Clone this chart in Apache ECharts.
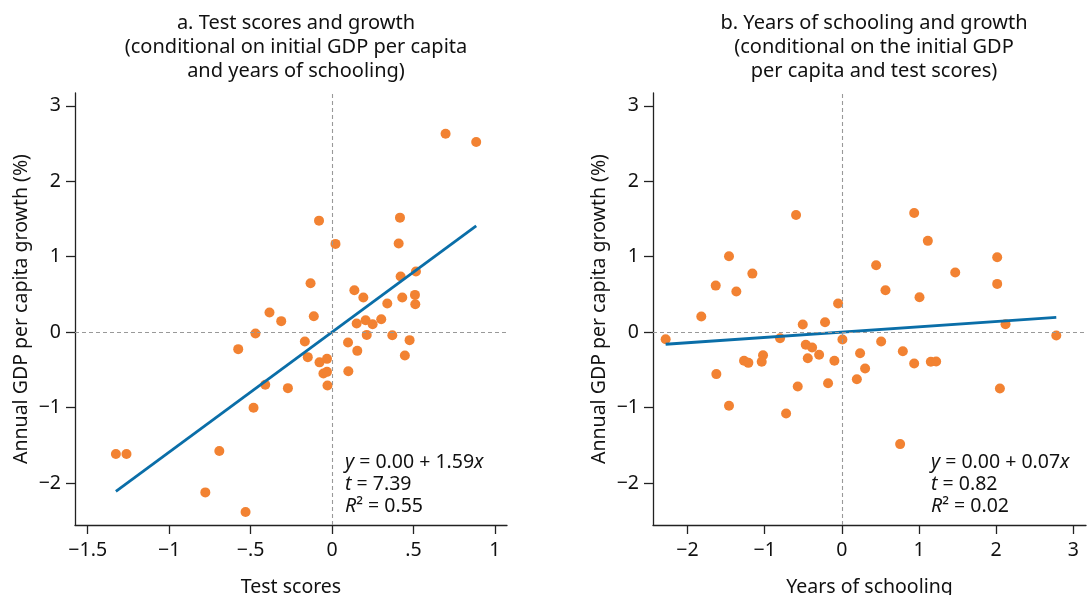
<!DOCTYPE html>
<html>
<head>
<meta charset="utf-8">
<script src="https://cdn.jsdelivr.net/npm/echarts@6/dist/echarts.min.js"></script>
<style>
  html, body { margin: 0; padding: 0; background: #fff; }
  #chart { width: 1090px; height: 595px; }
</style>
</head>
<body>
<div id="chart"></div>
<script>
// panel a: test scores vs growth (x, y)
const testScores = [
  [0.697, 2.63], [0.885, 2.52], [-0.080, 1.478], [0.417, 1.518], [0.021, 1.17],
  [0.409, 1.174], [0.515, 0.803], [0.421, 0.737], [-0.132, 0.648], [0.137, 0.556],
  [0.192, 0.459], [0.431, 0.459], [0.509, 0.494], [0.511, 0.370], [0.339, 0.379],
  [-0.384, 0.26], [-0.312, 0.146], [-0.112, 0.21], [0.206, 0.159], [0.151, 0.114],
  [0.249, 0.105], [0.302, 0.172], [-0.470, -0.018], [0.213, -0.036], [0.370, -0.04],
  [0.476, -0.106], [-0.167, -0.124], [0.098, -0.137], [-0.576, -0.225], [0.155, -0.248],
  [0.447, -0.31], [-0.149, -0.331], [-0.077, -0.40], [-0.031, -0.354], [-0.053, -0.548],
  [-0.031, -0.526], [0.100, -0.517], [-0.41, -0.698], [-0.271, -0.742], [-0.028, -0.707],
  [-0.482, -1.003], [-0.692, -1.576], [-1.327, -1.616], [-1.262, -1.616], [-0.778, -2.124],
  [-0.531, -2.384]
]
const fitA = [[-1.327, -2.11], [0.885, 1.41]]

// panel b: years of schooling vs growth (x, y)
const schooling = [
  [-0.593, 1.554], [0.938, 1.58], [1.115, 1.21], [-1.462, 1.006], [2.014, 0.993],
  [0.445, 0.887], [-1.159, 0.776], [1.47, 0.79], [-1.634, 0.617], [2.014, 0.64],
  [-1.367, 0.538], [0.566, 0.556], [1.007, 0.463], [-0.048, 0.379], [-1.821, 0.207],
  [-0.506, 0.101], [-0.217, 0.132], [2.122, 0.106], [2.78, -0.045], [-2.283, -0.093],
  [-0.80, -0.08], [0.008, -0.098], [0.51, -0.124], [-0.467, -0.168], [-0.385, -0.204],
  [0.791, -0.252], [0.237, -0.279], [-0.294, -0.30], [-1.021, -0.305], [-0.441, -0.345],
  [-0.096, -0.38], [-1.267, -0.38], [-1.211, -0.407], [-1.038, -0.393], [0.938, -0.416],
  [1.154, -0.393], [1.223, -0.389], [0.302, -0.482], [-1.626, -0.556], [0.195, -0.623],
  [-0.178, -0.676], [-0.571, -0.72], [2.049, -0.747], [-1.462, -0.976], [-0.722, -1.078],
  [0.756, -1.484]
]
const fitB = [[-2.283, -0.16], [2.78, 0.195]]

const yTicks = [-2, -1, 0, 1, 2, 3]
const xTicksA = [-1.5, -1, -0.5, 0, 0.5, 1]
const xTicksB = [-2, -1, 0, 1, 2, 3]

const titleA = 'a. Test scores and growth\n(conditional on initial GDP per capita\nand years of schooling)'
const titleB = 'b. Years of schooling and growth\n(conditional on the initial GDP\nper capita and test scores)'
const statsA = ['{i|y} = 0.00 + 1.59{i|x}', '{i|t} = 7.39', '{i|R}\u00b2 = 0.55']
const statsB = ['{i|y} = 0.00 + 0.07{i|x}', '{i|t} = 0.82', '{i|R}\u00b2 = 0.02']

const FONT = '"Noto Sans", sans-serif'
const ORANGE = '#f28232'
const BLUE = '#0a6ea8'
const AXIS = '#222'
const TEXT = '#111'

function fmtTick (v) {
  let s = String(Math.abs(v)).replace(/^0\./, '.')
  return (v < 0 ? '\u2212' : '') + s
}

function xAxisOf (idx, min, max, ticks, name) {
  return {
    gridIndex: idx,
    type: 'value',
    min: min,
    max: max,
    name: name,
    nameLocation: 'middle',
    nameGap: 52,
    nameTextStyle: { fontFamily: FONT, fontSize: 19.5, color: TEXT },
    axisLine: { onZero: false, lineStyle: { color: AXIS, width: 1.3 } },
    axisTick: { customValues: ticks, length: 9, lineStyle: { color: AXIS, width: 1.3 } },
    axisLabel: { customValues: ticks, formatter: fmtTick, margin: 15, fontFamily: FONT, fontSize: 19.5, color: TEXT },
    splitLine: { show: false }
  }
}

function yAxisOf (idx) {
  return {
    gridIndex: idx,
    type: 'value',
    min: -2.556,
    max: 3.17,
    name: 'Annual GDP per capita growth (%)',
    nameLocation: 'middle',
    nameGap: 44,
    nameTextStyle: { fontFamily: FONT, fontSize: 19.5, color: TEXT },
    axisLine: { show: true, onZero: false, lineStyle: { color: AXIS, width: 1.3 } },
    axisTick: { show: true, customValues: yTicks, length: 9, lineStyle: { color: AXIS, width: 1.3 } },
    axisLabel: { customValues: yTicks, formatter: fmtTick, margin: 14, fontFamily: FONT, fontSize: 19.5, color: TEXT },
    splitLine: { show: false }
  }
}

function refLines () {
  return {
    silent: true,
    symbol: 'none',
    label: { show: false },
    lineStyle: { color: '#999', type: [4, 3], width: 1.1 },
    data: [{ xAxis: 0 }, { yAxis: 0 }]
  }
}

function statsText (left, lines) {
  return lines.map((t, i) => ({
    type: 'text',
    left: left,
    top: 452 + i * 22,
    style: {
      text: t,
      fontFamily: FONT,
      fontSize: 19.5,
      fill: TEXT,
      rich: { i: { fontStyle: 'italic', fontFamily: FONT, fontSize: 19.5, fill: TEXT } }
    }
  }))
}

const chart = echarts.init(document.getElementById('chart'), null, { renderer: 'canvas' })
chart.setOption({
  animation: false,
  backgroundColor: '#fff',
  title: [
    { text: titleA, left: 291, top: 6, textAlign: 'center',
      textStyle: { fontFamily: FONT, fontSize: 20, fontWeight: 'normal', color: TEXT, lineHeight: 24 } },
    { text: titleB, left: 869, top: 6, textAlign: 'center',
      textStyle: { fontFamily: FONT, fontSize: 20, fontWeight: 'normal', color: TEXT, lineHeight: 24 } }
  ],
  grid: [
    { left: 75, top: 93, width: 432, height: 432, outerBoundsMode: 'none' },
    { left: 653, top: 93, width: 433, height: 432, outerBoundsMode: 'none' }
  ],
  xAxis: [
    xAxisOf(0, -1.578, 1.074, xTicksA, 'Test scores'),
    xAxisOf(1, -2.447, 3.165, xTicksB, 'Years of schooling')
  ],
  yAxis: [yAxisOf(0), yAxisOf(1)],
  graphic: statsText(345, statsA).concat(statsText(931, statsB)),
  series: [
    { type: 'scatter', xAxisIndex: 0, yAxisIndex: 0, data: testScores, symbolSize: 10,
      itemStyle: { color: ORANGE, opacity: 1 }, markLine: refLines(), z: 3 },
    { type: 'line', xAxisIndex: 0, yAxisIndex: 0, data: fitA, symbol: 'none',
      lineStyle: { color: BLUE, width: 2.8 }, z: 4 },
    { type: 'scatter', xAxisIndex: 1, yAxisIndex: 1, data: schooling, symbolSize: 10,
      itemStyle: { color: ORANGE, opacity: 1 }, markLine: refLines(), z: 3 },
    { type: 'line', xAxisIndex: 1, yAxisIndex: 1, data: fitB, symbol: 'none',
      lineStyle: { color: BLUE, width: 2.8 }, z: 4 }
  ]
})
</script>
</body>
</html>
